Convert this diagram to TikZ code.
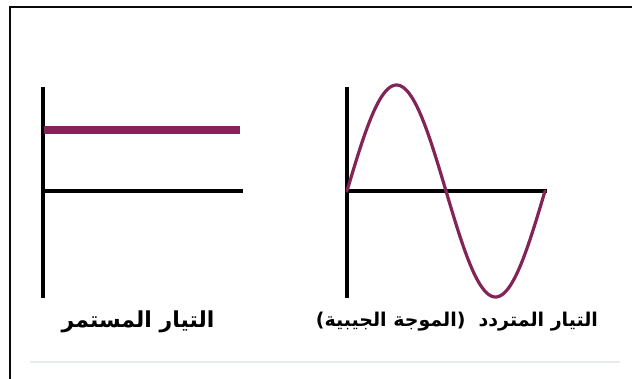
\documentclass[tikz,border=0pt]{standalone}
\usepackage{fontspec}
\usepackage{xcolor}
\usetikzlibrary{positioning}
\TeXXeTstate=1
\newfontfamily\arabicfont[Script=Arabic]{DejaVu Sans}
\definecolor{waveRed}{RGB}{130,36,88}
\definecolor{frameLine}{RGB}{10,10,10}
\definecolor{faintLine}{RGB}{232,236,240}

\begin{document}
\begin{tikzpicture}[x=1pt, y=-1pt,
  axisline/.style={draw=black, line width=3.4pt},
  wave/.style={draw=waveRed, line width=3.2pt},
  caption/.style={font=\arabicfont\bfseries\fontsize{22}{26}\selectfont, inner sep=0pt}]
\useasboundingbox (0,0) rectangle (632,379);
% frame
\draw[frameLine, line width=2.2pt] (10,379) -- (10,7) -- (632,7);
\draw[faintLine, line width=1.5pt] (30,362) -- (620,362);

% direct current
\coordinate (dcTop) at (43,87);
\coordinate (dcBot) at (43,298);
\coordinate (dcO) at (43,191);
\coordinate (dcEnd) at (243,191);
\coordinate (dcLvl) at (44,130);
\coordinate (dcLvlEnd) at (240,130);
\draw[axisline] (dcTop) -- (dcBot);
\draw[axisline] (dcO) -- (dcEnd);
\draw[draw=waveRed, line width=7.5pt] (dcLvl) -- (dcLvlEnd);
\node[caption] (dcText) at (138,322) {\beginR التيار المستمر\endR};

% alternating current
\coordinate (acTop) at (347,87);
\coordinate (acBot) at (347,298);
\coordinate (acO) at (347,191);
\coordinate (acEnd) at (547,191);
\draw[axisline] (acTop) -- (acBot);
\draw[axisline] (acO) -- (acEnd);
\draw[wave, line cap=round] plot[domain=0:360, samples=120] ({347+\x*0.55},{191-106*sin(\x)});
\node[caption, font=\arabicfont\bfseries\fontsize{19}{24}\selectfont] (acText) at (457,322) {\beginR التيار المتردد \ (الموجة الجيبية)\endR};
\end{tikzpicture}
\end{document}
